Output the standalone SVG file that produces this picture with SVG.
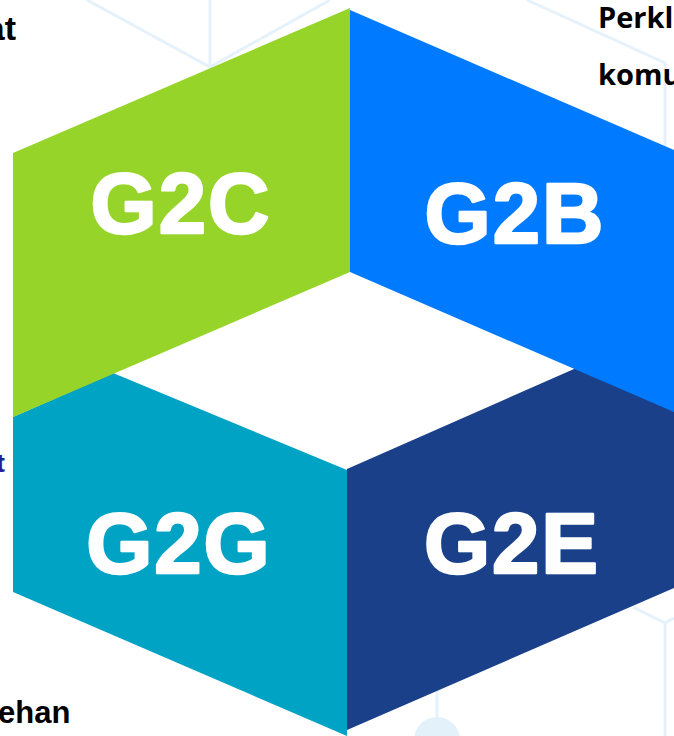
<svg xmlns="http://www.w3.org/2000/svg" width="674" height="736" viewBox="0 0 674 736">
  <style>
    .bg { fill: none; stroke: #e6f2fb; stroke-width: 3; }
    .lbl { font-family: "Liberation Sans", Arial, sans-serif; font-weight: bold; font-size: 85px; fill: #ffffff; stroke: #ffffff; stroke-width: 2.5; stroke-linejoin: round; text-anchor: middle; letter-spacing: 2px; }
    .side { font-family: "Liberation Sans", Arial, sans-serif; font-weight: bold; fill: #000000; }
    .side2 { font-family: "Open Sans", "Liberation Sans", sans-serif; font-weight: bold; font-size: 29px; fill: #000000; }
  </style>
  <rect width="674" height="736" fill="#ffffff"/>
  <g id="background">
    <polyline class="bg" points="87,0 210,67 330,0"/>
    <line class="bg" x1="210" y1="0" x2="210" y2="67"/>
    <polyline class="bg" points="527,0 665,63 665,160"/>
    <polyline class="bg" points="633,607 665,623 674,618"/>
    <line class="bg" x1="665" y1="623" x2="665" y2="736"/>
    <line class="bg" x1="437" y1="680" x2="437" y2="730"/>
    <circle cx="437" cy="740" r="23" fill="#e3f1fa"/>
  </g>
  <g id="side-texts">
    <text class="side" x="16" y="40" font-size="34" text-anchor="end">at</text>
    <text class="side2" x="598" y="28">Perkl</text>
    <text class="side2" x="598" y="85">komu</text>
    <text x="5" y="472" font-family="Liberation Sans, sans-serif" font-weight="bold" font-size="26" fill="#1f1f9a" text-anchor="end">t</text>
    <text class="side" x="-2" y="723" font-size="31">ehan</text>
  </g>
  <g id="g2e">
    <polygon points="347,469 574,369 674,325 674,588 347,730" fill="#1a408a"/>
    <text class="lbl" x="512" y="573">G2E</text>
  </g>
  <g id="g2g">
    <polygon points="13,417 113,373 347,470 347,736 13,592" fill="#00a3c4"/>
    <text class="lbl" x="179" y="573">G2G</text>
  </g>
  <g id="g2c">
    <polygon points="13,153 350,8 350,272 13,417" fill="#97d42a"/>
    <text class="lbl" x="181" y="233">G2C</text>
  </g>
  <g id="g2b">
    <polygon points="350,10 674,150 674,412 350,272" fill="#007aff"/>
    <text class="lbl" x="515" y="243">G2B</text>
  </g>
</svg>
